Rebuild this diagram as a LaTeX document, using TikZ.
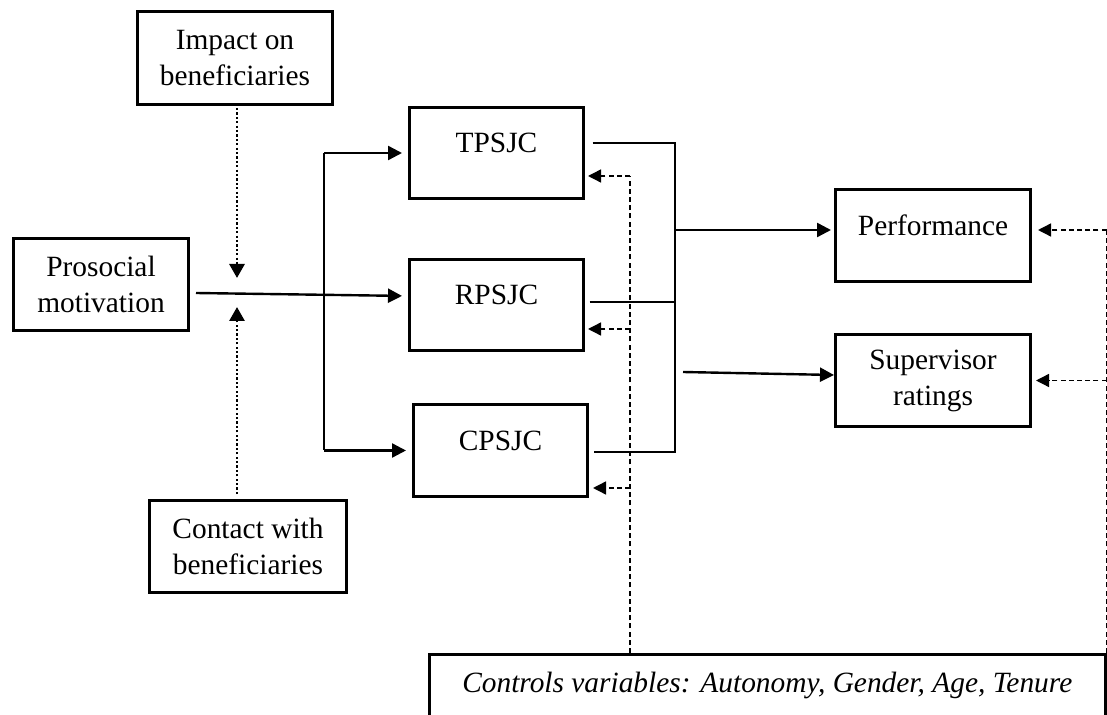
\documentclass[tikz,border=0pt]{standalone}
\usepackage{fontspec}
\setmainfont{Liberation Serif}
\usetikzlibrary{arrows.meta,calc}
\begin{document}
\begin{tikzpicture}[x=0.5pt,y=-0.5pt,
  every node/.style={font=\fontsize{14.7}{18}\selectfont},
  box/.style={draw,line width=1.5pt,inner sep=0pt,align=center},
  oneline/.style={box,text height=0.5em,text depth=0.5em},
  solidline/.style={line width=1.2pt},
  arr/.style={line width=1.2pt,-{Triangle[length=7pt,width=7pt]}},
  dotarr/.style={line width=1.4pt,dash pattern=on 1.1pt off 1.1pt,-{Triangle[length=7pt,width=7.5pt]}},
  dashline/.style={line width=0.7pt,dash pattern=on 2.5pt off 1.6pt},
  dasharr/.style={dashline,-{Triangle[length=6.5pt,width=6.5pt]}}]
\useasboundingbox (0,0) rectangle (1107,715);
\clip (0,0) rectangle (1107,715);

% boxes
\node[box,minimum width=97.5pt,minimum height=46.5pt] (imp) at (235,58) {Impact on\\beneficiaries};
\node[box,minimum width=87.5pt,minimum height=46pt] (pro) at (101,284.5) {Prosocial\\motivation};
\node[box,minimum width=98.5pt,minimum height=46pt] (con) at (248,546.5) {Contact with\\beneficiaries};
\node[oneline,minimum width=87pt,minimum height=45.5pt] (tp) at (496.5,153) {TPSJC};
\node[oneline,minimum width=87pt,minimum height=45.5pt] (rp) at (496.5,305) {RPSJC};
\node[oneline,minimum width=87pt,minimum height=46pt] (cp) at (500.5,450.5) {CPSJC};
\node[oneline,minimum width=97.5pt,minimum height=46pt] (perf) at (933,235.5) {Performance};
\node[box,minimum width=97.5pt,minimum height=46pt] (sup) at (933,380.5) {Supervisor\\ratings};
\node[oneline,minimum width=337.75pt,minimum height=37.5pt] (ctl) at (767.25,692)
  {\itshape Controls variables: Autonomy, Gender, Age, Tenure};

% helper points
\coordinate (modt) at (237,278);
\coordinate (modb) at (237,307);
\coordinate (brx) at (324,0);
\coordinate (colx) at (675,0);
\coordinate (dl) at (630,0);
\coordinate (pmo) at ([shift={(3pt,-4.25pt)}]pro.east);
\coordinate (rpi) at ([yshift=4.5pt]rp.west);
\coordinate (tpo) at ([shift={(3.75pt,5pt)}]tp.east);
\coordinate (rpo) at ([shift={(2.25pt,1.5pt)}]rp.east);
\coordinate (cpo) at ([shift={(2.25pt,-0.75pt)}]cp.east);
\coordinate (perfi) at ([yshift=2.75pt]perf.west);
\coordinate (supi) at ([yshift=2.75pt]sup.west);
\coordinate (tpd) at ([yshift=-11.5pt]tp.east);
\coordinate (rpd) at ([yshift=-12pt]rp.east);
\coordinate (cpd) at ([yshift=-18.75pt]cp.east);
\coordinate (perfd) at ([yshift=2.75pt]perf.east);
\coordinate (supd) at (sup.east);

% moderators
\draw[dotarr,shorten <=1pt] (imp.south -| modt) -- (modt);
\draw[dotarr,shorten <=2.5pt] (con.north -| modb) -- (modb);

% prosocial motivation to the three crafting forms
\draw[arr,shorten >=3pt] (pmo) -- (rpi);
\draw[solidline] (tp.west -| brx) -- (cp.west -| brx);
\draw[arr,shorten >=3pt] (tp.west -| brx) -- (tp.west);
\draw[arr,shorten >=3pt] (cp.west -| brx) -- (cp.west);

% crafting forms to outcomes
\draw[solidline] (tpo) -| (cpo -| colx) -- (cpo);
\draw[solidline] (rpo) -- (rpo -| colx);
\draw[arr,shorten >=1.5pt] (perfi -| colx) -- (perfi);
\draw[arr] ($(supi -| colx)+(4pt,1.5pt)$) -- (supi);

% control variables
\draw[dashline] (ctl.north -| dl) -- (tpd -| dl);
\draw[dasharr,shorten >=1.5pt] (tpd -| dl) -- (tpd);
\draw[dasharr,shorten >=1.5pt] (rpd -| dl) -- (rpd);
\draw[dasharr,shorten >=2pt] (cpd -| dl) -- (cpd);
\draw[dashline] (ctl.north east) -- (perfd -| ctl.north east);
\draw[dasharr,shorten >=3pt] (perfd -| ctl.north east) -- (perfd);
\draw[dasharr,shorten >=2pt] (supd -| ctl.north east) -- (supd);
\end{tikzpicture}
\end{document}
